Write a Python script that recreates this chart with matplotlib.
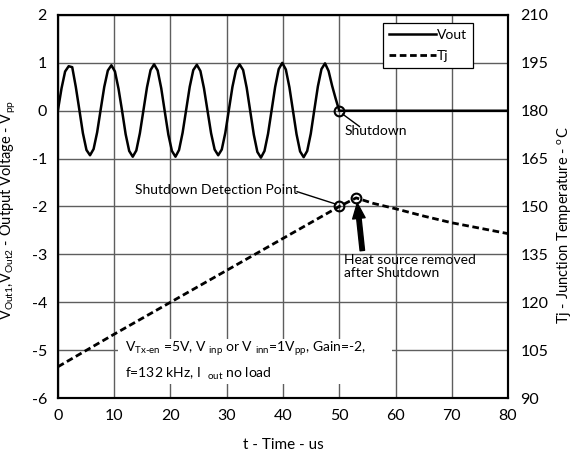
import numpy as np
import matplotlib
matplotlib.use('Agg')
from matplotlib import pyplot as plt
from matplotlib.patches import Rectangle

plt.rcParams['font.family'] = ['Lato', 'DejaVu Sans']
plt.rcParams['mathtext.fontset'] = 'custom'
plt.rcParams['mathtext.rm'] = 'Lato'
plt.rcParams['mathtext.it'] = 'Lato:italic'
plt.rcParams['axes.unicode_minus'] = False

# output voltage before shutdown, sampled every 1/12 of a period from 0 to 50 us
vout_wave = [0.02, 0.47, 0.82, 0.93, 0.91, 0.50, 0.02, -0.47, -0.82, -0.93, -0.80, -0.45,
             0.03, 0.50, 0.84, 0.95, 0.82, 0.46, 0.00, -0.49, -0.84, -0.96, -0.83, -0.47,
             0.01, 0.49, 0.85, 0.97, 0.84, 0.47, -0.02, -0.50, -0.84, -0.96, -0.82, -0.46,
             0.02, 0.50, 0.85, 0.96, 0.83, 0.47, 0.00, -0.47, -0.81, -0.93, -0.81, -0.46,
             0.02, 0.50, 0.85, 0.97, 0.85, 0.48, -0.01, -0.50, -0.86, -0.98, -0.84, -0.48,
             0.01, 0.50, 0.87, 1.00, 0.86, 0.49, 0.00, -0.49, -0.85, -0.97, -0.84, -0.48,
             0.02, 0.51, 0.87, 0.99, 0.83, 0.52, 0.25, 0.00]
vout_t = np.linspace(0.0, 50.0, len(vout_wave))
# after shutdown
vout_off_t = [50, 80]
vout_off = [0, 0]

# junction temperature
tj_t = [0, 10, 20, 30, 40, 50, 53, 56, 60, 65, 70, 75, 80]
tj = [99.8, 110, 120, 130, 140, 150, 152.7, 151, 149.3, 147, 144.9, 143.2, 141.5]

x_ticks = [0, 10, 20, 30, 40, 50, 60, 70, 80]
v_ticks = [2, 1, 0, -1, -2, -3, -4, -5, -6]
t_ticks = [90, 105, 120, 135, 150, 165, 180, 195, 210]

fig = plt.figure(figsize=(5.73, 4.57), dpi=100)
ax = fig.add_axes([0.1012, 0.1291, 0.7854, 0.8381])
ax2 = ax.twinx()

ax.set_xlim(0, 80)
ax.set_ylim(-6, 2)
ax2.set_ylim(90, 210)
ax.set_xticks(x_ticks)
ax.set_yticks(v_ticks)
ax2.set_yticks(t_ticks)
ax.grid(True, color='#5e5e5e', lw=1.0)
ax.set_axisbelow(True)
for a in (ax, ax2):
    for s in a.spines.values():
        s.set_linewidth(1.5)
        s.set_color('black')
ax.tick_params(length=0, labelsize=11.5, pad=8)
ax2.tick_params(length=0, labelsize=11.5, pad=9)

# white box behind the test conditions
ax.add_patch(Rectangle((10.7, -5.70), 48.7, 0.94, facecolor='white', edgecolor='none', zorder=1.5))

l1, = ax.plot(np.concatenate([vout_t, vout_off_t]), np.concatenate([vout_wave, vout_off]),
              color='black', lw=1.8, zorder=3)
l2, = ax2.plot(tj_t, tj, color='black', lw=2.0, ls=(0, (2.4, 1.3)), zorder=3)

# marked points
ax.plot([50], [0], 'o', ms=7, mfc='none', mec='black', mew=1.5, zorder=4)
ax2.plot([50, 53], [150, 152.7], 'o', ls='none', ms=7, mfc='none', mec='black', mew=1.5, zorder=4)

# annotations
ax.plot([50.6, 53.6], [-0.07, -0.33], color='black', lw=1.0)
ax.text(50.9, -0.42, 'Shutdown', fontsize=10, ha='left', va='center')
ax.plot([42.5, 49.4], [-1.69, -1.95], color='black', lw=1.0)
ax.text(13.7, -1.65, 'Shutdown Detection Point', fontsize=10, ha='left', va='center')
ax.annotate('', xy=(53.2, -1.93), xytext=(54.1, -2.92),
            arrowprops=dict(width=3.2, headwidth=9, headlength=11, color='black'))
ax.text(50.9, -3.0, 'Heat source removed\nafter Shutdown', fontsize=10, ha='left', va='top',
        linespacing=1.1)
ax.text(11.9, -4.97, r'V$_{\mathregular{Tx{\text{-}}en}}$ =5V, V $_{\mathregular{inp}}$ or V $_{\mathregular{inn}}$=1V$_{\mathregular{pp}}$, Gain=-2,',
        fontsize=10, ha='left', va='center', zorder=2)
ax.text(11.9, -5.49, r'f=132 kHz, I  $_{\mathregular{out}}$ no load',
        fontsize=10, ha='left', va='center', zorder=2)

ax.set_xlabel('t - Time - us', fontsize=11)
ax.xaxis.set_label_coords(0.5, -0.105)
ax.set_ylabel(r'V$_{\mathregular{Out1}}$,V$_{\mathregular{Out2}}$ - Output Voltage - V$_{\mathregular{pp}}$', fontsize=10.5)
ax.yaxis.set_label_coords(-0.088, 0.49)
ax2.set_ylabel(r'Tj - Junction Temperature - $^{\mathregular{o}}$C', fontsize=10.5)
ax2.yaxis.set_label_coords(1.106, 0.45)

leg = ax2.legend([l1, l2], ['Vout', 'Tj'], loc='upper right', bbox_to_anchor=(0.922, 0.979),
                 fancybox=False, edgecolor='black', framealpha=1, fontsize=10,
                 handlelength=3.4, handletextpad=0.1, labelspacing=0.7, borderaxespad=0)
leg.get_frame().set_linewidth(0.9)

fig.savefig('out.png', dpi=100)
